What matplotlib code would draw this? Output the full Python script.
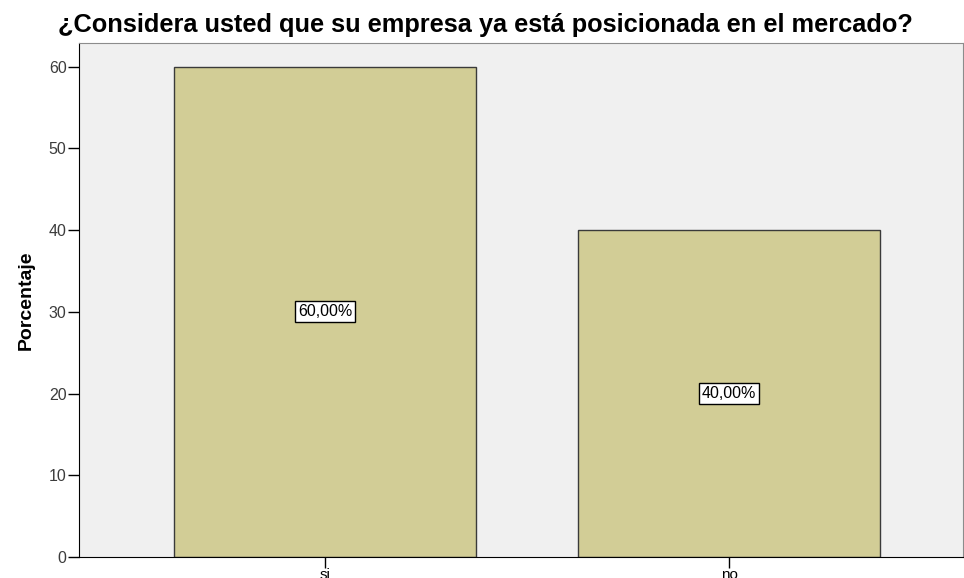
import matplotlib
matplotlib.use("Agg")
import matplotlib.pyplot as plt

categories = ["si", "no"]
percentages = [60.0, 40.0]
labels = ["60,00%", "40,00%"]

plt.rcParams['font.family'] = ['Liberation Sans', 'DejaVu Sans']

fig = plt.figure(figsize=(9.64, 5.78), dpi=100)
ax = fig.add_axes([79 / 964, 1 - 557 / 578, (963 - 79) / 964, (557 - 43) / 578])
ax.set_facecolor("#f0f0f0")

pos = list(range(len(categories)))
ax.bar(pos, percentages, width=0.748, color="#d2cd96", edgecolor="#3a3a3a", linewidth=1.0)

# value labels in white boxes at half bar height
for x, v, t in zip(pos, percentages, labels):
    ax.text(x, v / 2, t, ha="center", va="center", fontsize=11.5, color="black",
            bbox=dict(boxstyle="square,pad=0.18", facecolor="white", edgecolor="black", linewidth=1.0))

ax.set_xlim(-0.609, 1.579)
ax.set_ylim(0, 62.9)
ax.set_xticks(pos)
ax.set_xticklabels(categories, fontsize=11)
ax.set_yticks([0, 10, 20, 30, 40, 50, 60])
ax.tick_params(axis="y", direction="out", length=8, width=1, labelsize=11.5, labelcolor="#3c3c3c", pad=1)
ax.tick_params(axis="x", direction="out", length=8, width=1, pad=0)

ax.set_ylabel("Porcentaje", fontsize=14, fontweight="bold", labelpad=10)
for s in ["top", "right"]:
    ax.spines[s].set_color("#8c8c8c")
for s in ["left", "bottom"]:
    ax.spines[s].set_color("black")

fig.text(0.504, 1 - 25 / 578, "¿Considera usted que su empresa ya está posicionada en el mercado?",
         ha="center", va="center", fontsize=18.3, fontweight="bold")

fig.savefig("out.png", dpi=100)
